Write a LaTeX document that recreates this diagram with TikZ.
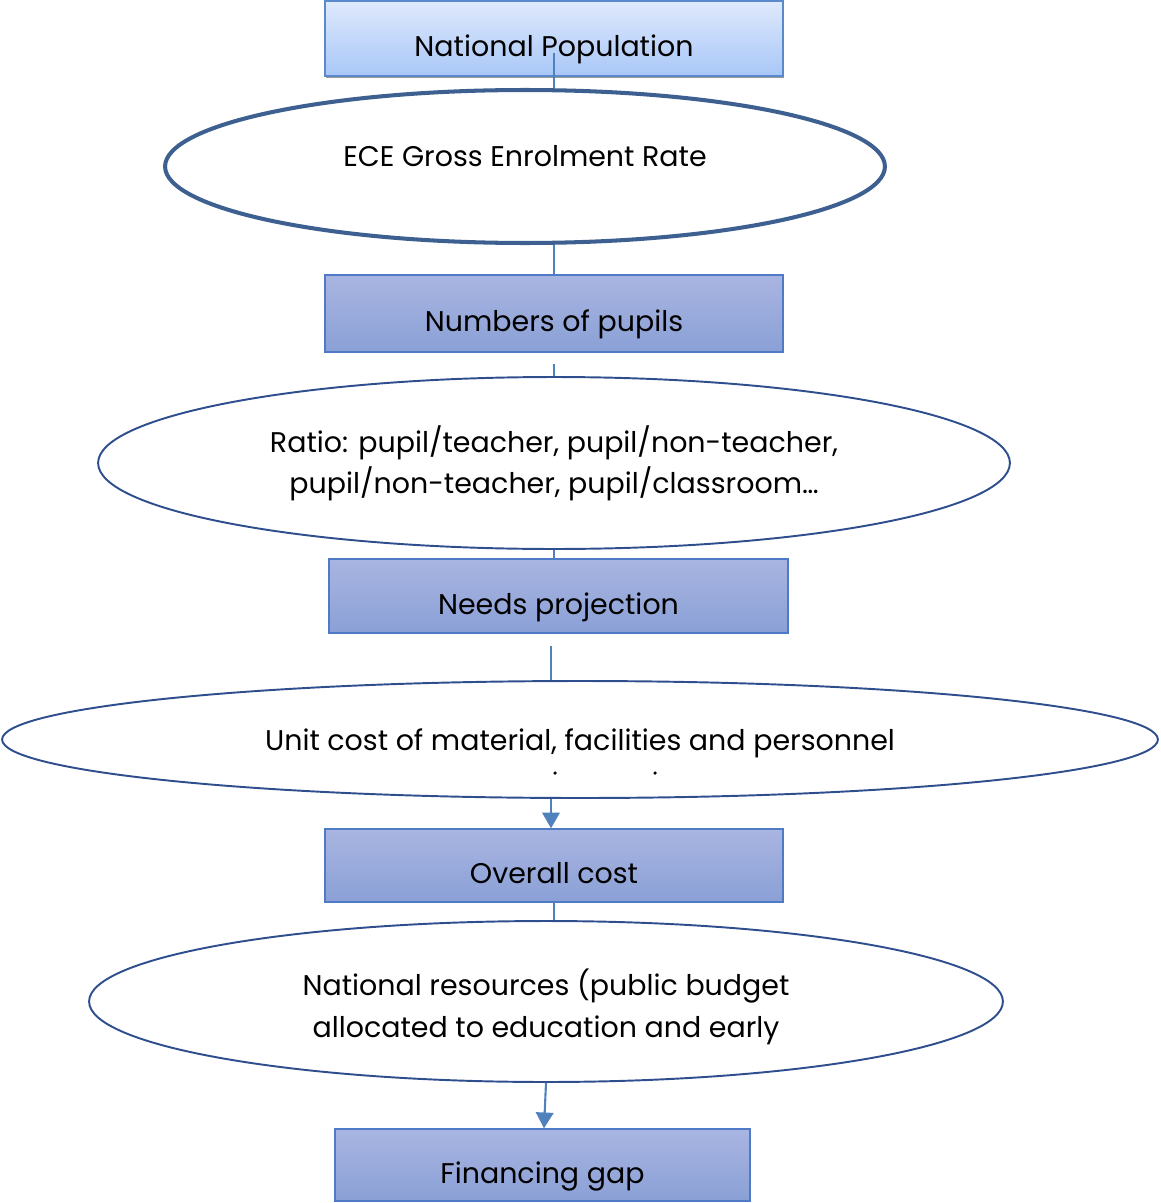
\documentclass[tikz,border=0pt]{standalone}
\usepackage{fontspec}
\setmainfont{Poppins}
\usetikzlibrary{shapes.geometric,arrows.meta,shadows}
\definecolor{popTop}{HTML}{DFE9FD}
\definecolor{popBottom}{HTML}{A8C7F7}
\definecolor{popLine}{HTML}{5A8ACB}
\definecolor{boxTop}{HTML}{A9B5E1}
\definecolor{boxBottom}{HTML}{8AA0D6}
\definecolor{boxLine}{HTML}{4F7BC6}
\definecolor{ovalLine}{HTML}{2F4E8E}
\definecolor{eceLine}{HTML}{3E6090}
\definecolor{linkBlue}{HTML}{4F81BD}

\tikzset{
	stepbox/.style={draw=boxLine, line width=0.8pt, top color=boxTop, bottom color=boxBottom, minimum width=9.16cm, inner sep=0pt, text height=21pt, text depth=0pt},
	bubble/.style={ellipse, draw=ovalLine, line width=1.1pt, inner sep=0pt, align=center},
	link/.style={draw=linkBlue, line width=1.2pt},
	tip/.style={-{Triangle[width=10pt,length=9pt]}}
}

\begin{document}
\begin{tikzpicture}[x=0.02cm, y=-0.02cm, font=\fontsize{16.2}{23.5}\selectfont]
	\useasboundingbox (0,0) rectangle (1160,1203);
	% boxes and ovals, top to bottom
	\node[stepbox, draw=popLine, top color=popTop, bottom color=popBottom, minimum height=1.5cm,
		drop shadow={shadow xshift=0.6pt, shadow yshift=-1.4pt, fill=gray!80, opacity=1}] (pop) at (554,38.5) {National Population};
	\node[bubble, draw=eceLine, line width=2.3pt, minimum width=14.4cm, minimum height=3.06cm, text height=12pt, text depth=12pt] (ece) at (525,166.5) {ECE Gross Enrolment Rate};
	\node[stepbox, minimum height=1.54cm] (num) at (554,313.5) {Numbers of pupils};
	\node[bubble, minimum width=18.24cm, minimum height=3.44cm] (ratio) at (554,463) {Ratio: pupil/teacher, pupil/non-teacher,\\pupil/non-teacher, pupil/classroom\dots};
	\node[stepbox, minimum width=9.18cm, minimum height=1.48cm] (need) at (558.5,596) {Needs projection};
	\node[bubble, minimum width=23.12cm, minimum height=2.34cm, text height=14pt, text depth=2pt] (unit) at (580,739.5) {Unit cost of material, facilities and personnel};
	\node[stepbox, minimum height=1.46cm] (cost) at (554,865.5) {Overall cost};
	\node[bubble, minimum width=18.28cm, minimum height=3.22cm, text height=44pt, text depth=3.5pt] (res) at (546,1001.5) {National resources (public budget\\allocated to education and early};
	\node[stepbox, minimum width=8.3cm, minimum height=1.44cm] (gap) at (542.5,1165) {Financing gap};
	% clipped text marks
	\fill (555,773) circle (1pt) (655,773) circle (1pt);
	% connectors
	\coordinate (needOut) at ([xshift=-0.15cm, yshift=-0.24cm]need.south);
	\draw[link] ([yshift=-0.3cm]pop.center) -- (pop.center |- ece.north);
	\draw[link] (pop.center |- ece.south) -- (num.north);
	\draw[link] ([yshift=-0.22cm]num.south) -- (ratio.north);
	\draw[link] (ratio.south) -- (ratio.south |- need.north);
	\draw[link] (needOut) -- (needOut |- unit.north);
	\draw[link, tip] (needOut |- unit.south) -- (needOut |- cost.north);
	\draw[link] (cost.south) -- (cost.south |- res.north);
	\draw[link, tip] (res.south) -- ([xshift=0.03cm]gap.north);
\end{tikzpicture}
\end{document}
